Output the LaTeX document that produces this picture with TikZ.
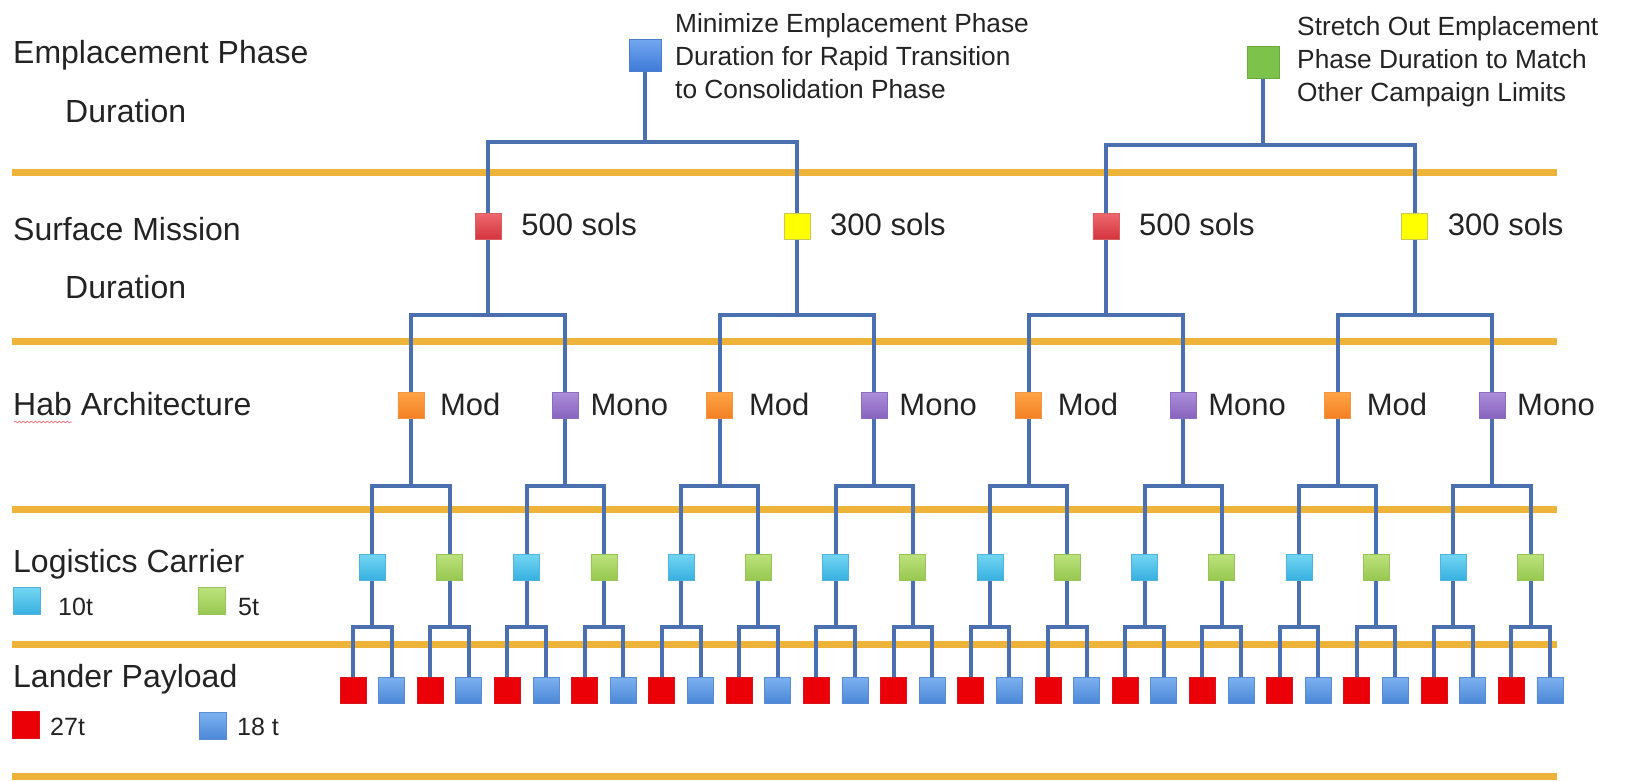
\documentclass[tikz,border=0pt]{standalone}
\usepackage{fontspec}
\setmainfont{Liberation Sans}
\usetikzlibrary{decorations.pathmorphing}
\definecolor{connc}{RGB}{74,112,176}
\definecolor{bandc}{RGB}{238,180,58}
\definecolor{txtc}{RGB}{35,35,35}
\pgfdeclarelayer{bg}
\pgfsetlayers{bg,main}
\begin{document}
\begin{tikzpicture}[x=1pt,y=-1pt,
  sq/.style={rectangle, draw, line width=0.8pt, minimum size=26pt, inner sep=0pt},
  conn/.style={draw=connc, line width=4pt},
  band/.style={draw=bandc, line width=7pt},
  lbl/.style={anchor=base west, inner sep=0pt, text=txtc, font=\fontsize{31}{36}\selectfont},
  side/.style={anchor=base west, inner sep=0pt, text=txtc, font=\fontsize{32}{38}\selectfont},
  note/.style={anchor=base west, inner sep=0pt, text=txtc, align=left, font=\fontsize{26.3}{33}\selectfont},
  legend/.style={anchor=base west, inner sep=0pt, text=txtc, font=\fontsize{25}{30}\selectfont},
  rootblue/.style={sq, minimum size=32pt, top color={rgb,255:red,115;green,168;blue,240}, bottom color={rgb,255:red,62;green,122;blue,215}, draw={rgb,255:red,75;green,125;blue,200}},
  rootgreen/.style={sq, minimum size=32pt, fill={rgb,255:red,125;green,194;blue,75}, draw={rgb,255:red,105;green,170;blue,65}},
  sols5/.style={sq, top color={rgb,255:red,238;green,105;blue,110}, bottom color={rgb,255:red,212;green,52;blue,62}, draw={rgb,255:red,215;green,95;blue,100}},
  sols3/.style={sq, fill={rgb,255:red,255;green,255;blue,0}, draw={rgb,255:red,200;green,200;blue,90}},
  modc/.style={sq, top color={rgb,255:red,255;green,165;blue,70}, bottom color={rgb,255:red,242;green,128;blue,35}, draw={rgb,255:red,240;green,150;blue,70}},
  monoc/.style={sq, top color={rgb,255:red,172;green,142;blue,218}, bottom color={rgb,255:red,135;green,100;blue,190}, draw={rgb,255:red,140;green,110;blue,190}},
  tenc/.style={sq, top color={rgb,255:red,115;green,214;blue,242}, bottom color={rgb,255:red,55;green,176;blue,224}, draw={rgb,255:red,80;green,180;blue,220}},
  fivec/.style={sq, top color={rgb,255:red,188;green,226;blue,125}, bottom color={rgb,255:red,152;green,200;blue,80}, draw={rgb,255:red,150;green,195;blue,90}},
  redc/.style={sq, fill={rgb,255:red,236;green,0;blue,8}, draw={rgb,255:red,215;green,20;blue,30}},
  bluec/.style={sq, top color={rgb,255:red,125;green,178;blue,240}, bottom color={rgb,255:red,75;green,135;blue,215}, draw={rgb,255:red,90;green,140;blue,210}}
]
\useasboundingbox (0,0) rectangle (1632,780);

% ---------- row labels ----------
\node[side] (lab1) at (13,63) {Emplacement Phase};
\node[side] (lab1b) at (65,122) {Duration};
\node[side] (lab2) at (13,240) {Surface Mission};
\node[side] (lab2b) at (65,298) {Duration};
\node[side] (lab3) at (13,415) {Hab Architecture};
\draw[decorate, decoration={snake, amplitude=0.8pt, segment length=4pt}, draw={rgb,255:red,235;green,120;blue,130}, line width=0.8pt] (14,422) -- (72,422);
\node[side] (lab4) at (13,572) {Logistics Carrier};
\node[side] (lab5) at (13,687) {Lander Payload};

% legend
\node[tenc, minimum size=27pt] (lg1) at (27,601) {};
\node[legend] (lg1t) at (58,615) {10t};
\node[fivec, minimum size=27pt] (lg2) at (212,601) {};
\node[legend] (lg2t) at (238,615) {5t};
\node[redc, minimum size=27pt] (lg3) at (26,725) {};
\node[legend] (lg3t) at (50,735) {27t};
\node[bluec, minimum size=27pt] (lg4) at (213,726) {};
\node[legend] (lg4t) at (237,735) {18 t};

% ---------- tree nodes ----------
\node[rootblue] (r1) at (645,55) {};
\node[note] (r1t) at (675,98) {Minimize Emplacement Phase\\Duration for Rapid Transition\\to Consolidation Phase};
\node[rootgreen] (r2) at (1263,62) {};
\node[note] (r2t) at (1297,101) {Stretch Out Emplacement\\Phase Duration to Match\\Other Campaign Limits};

\foreach \n [evaluate=\n as \xx using 179.255+308.88*\n] in {1,...,4} {
  \ifodd\n\relax
    \node[sols5] (a\n) at (\xx,226) {};
    \node[lbl] (a\n t) at (\xx+33,235) {500 sols};
  \else
    \node[sols3] (a\n) at (\xx,226) {};
    \node[lbl] (a\n t) at (\xx+33,235) {300 sols};
  \fi
}
\foreach \m [evaluate=\m as \xx using 256.475+154.44*\m] in {1,...,8} {
  \ifodd\m\relax
    \node[modc] (h\m) at (\xx,405) {};
    \node[lbl] (h\m t) at (\xx+29,415) {Mod};
  \else
    \node[monoc] (h\m) at (\xx,405) {};
    \node[lbl] (h\m t) at (\xx+25,415) {Mono};
  \fi
}
\foreach \k [evaluate=\k as \xx using 295.085+77.22*\k] in {1,...,16} {
  \ifodd\k\relax
    \node[tenc] (c\k) at (\xx,567) {};
  \else
    \node[fivec] (c\k) at (\xx,567) {};
  \fi
}
\foreach \i [evaluate=\i as \xx using 353+38.61*(\i-1)] in {1,...,32} {
  \ifodd\i\relax
    \node[redc] (l\i) at (\xx,690) {};
  \else
    \node[bluec] (l\i) at (\xx,690) {};
  \fi
}

% ---------- bands and connectors ----------
\begin{pgfonlayer}{bg}
  \foreach \yy [count=\b] in {172,341,509,644,776} {
    \coordinate (bandL\b) at (12,\yy);
    \coordinate (bandR\b) at (1557,\yy);
    \draw[band] (bandL\b) -- (bandR\b);
  }
  % root brackets
  \coordinate (br1) at (r1 |- 0,142);
  \draw[conn] (r1.south) -- (br1);
  \draw[conn] (a1.north) |- (br1) -| (a2.north);
  \coordinate (br2) at (r2 |- 0,145);
  \draw[conn] (r2.south) -- (br2);
  \draw[conn] (a3.north) |- (br2) -| (a4.north);
  % level 1
  \foreach \p [evaluate=\p as \ca using int(2*\p-1), evaluate=\p as \cb using int(2*\p)] in {1,...,4} {
    \coordinate (ba\p) at (a\p |- 0,315);
    \draw[conn] (a\p.south) -- (ba\p);
    \draw[conn] (h\ca.north) |- (ba\p) -| (h\cb.north);
  }
  % level 2
  \foreach \p [evaluate=\p as \ca using int(2*\p-1), evaluate=\p as \cb using int(2*\p)] in {1,...,8} {
    \coordinate (bh\p) at (h\p |- 0,486);
    \draw[conn] (h\p.south) -- (bh\p);
    \draw[conn] (c\ca.north) |- (bh\p) -| (c\cb.north);
  }
  % level 3
  \foreach \p [evaluate=\p as \ca using int(2*\p-1), evaluate=\p as \cb using int(2*\p)] in {1,...,16} {
    \coordinate (bc\p) at (c\p |- 0,627);
    \draw[conn] (c\p.south) -- (bc\p);
    \draw[conn] (l\ca.north) |- (bc\p) -| (l\cb.north);
  }
\end{pgfonlayer}
\end{tikzpicture}
\end{document}
